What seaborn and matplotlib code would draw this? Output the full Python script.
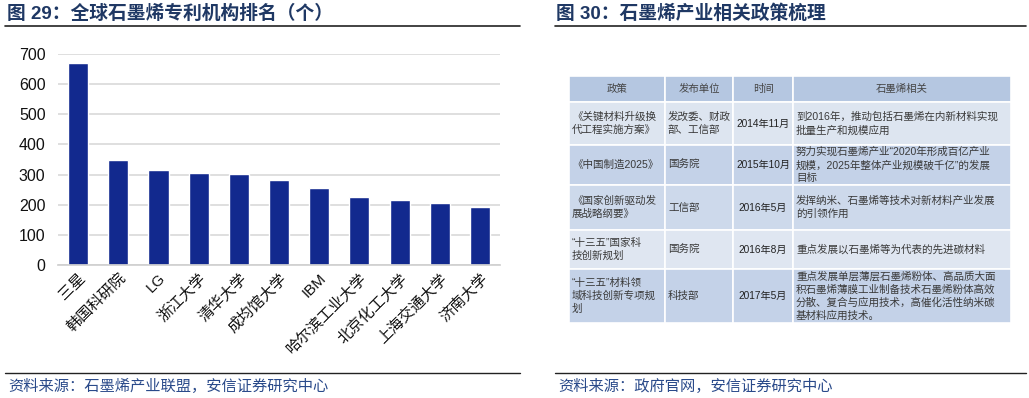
import matplotlib
matplotlib.use("Agg")
import matplotlib.pyplot as plt
import seaborn as sns
import pandas as pd
from matplotlib.patches import Rectangle
from matplotlib.lines import Line2D

# 图29 数据
orgs = ["三星", "韩国科研院", "LG", "浙江大学", "清华大学", "成均馆大学", "IBM",
        "哈尔滨工业大学", "北京化工大学", "上海交通大学", "济南大学"]
patents = [671, 348, 316, 305, 301, 283, 255, 227, 216, 205, 194]

# 图30 表格内容
header = ["政策", "发布单位", "时间", "石墨烯相关"]
policy = ["《关键材料升级换\n代工程实施方案》", "《中国制造2025》", "《国家创新驱动发\n展战略纲要》",
          "“十三五”国家科\n技创新规划", "“十三五”材料领\n域科技创新专项规\n划"]
issuer = ["发改委、财政\n部、工信部", "国务院", "工信部", "国务院", "科技部"]
dates = ["2014年11月", "2015年10月", "2016年5月", "2016年8月", "2017年5月"]
related = ["到2016年，推动包括石墨烯在内新材料实现\n批量生产和规模应用",
           "努力实现石墨烯产业“2020年形成百亿产业\n规模，2025年整体产业规模破千亿”的发展\n目标",
           "发挥纳米、石墨烯等技术对新材料产业发展\n的引领作用",
           "重点发展以石墨烯等为代表的先进碳材料",
           "重点发展单层薄层石墨烯粉体、高品质大面\n积石墨烯薄膜工业制备技术石墨烯粉体高效\n分散、复合与应用技术，高催化活性纳米碳\n基材料应用技术。"]

sns.set_theme(style="white")
plt.rcParams['font.family'] = ['Liberation Sans', 'Noto Sans CJK SC', 'DejaVu Sans']

W, H = 1029, 398
fig = plt.figure(figsize=(W / 100, H / 100), dpi=100)
fig.patch.set_facecolor("white")

def fx(px):
    return px / W

def fy(py):
    return 1 - py / H

title_color = "#1f3864"
# 标题和分隔线
fig.text(fx(7), fy(14), "图 29：全球石墨烯专利机构排名（个）", fontsize=13.5, fontweight="bold",
         color=title_color, va="center", ha="left")
fig.text(fx(556), fy(14), "图 30：石墨烯产业相关政策梳理", fontsize=13.5, fontweight="bold",
         color=title_color, va="center", ha="left")
for x0, x1 in [(5, 520), (555, 1026)]:
    fig.add_artist(Line2D([fx(x0), fx(x1)], [fy(26), fy(26)], color="#222222", lw=1.2))
    fig.add_artist(Line2D([fx(x0), fx(x1)], [fy(373), fy(373)], color="#222222", lw=1.0))
fig.text(fx(8), fy(386), "资料来源：石墨烯产业联盟，安信证券研究中心", fontsize=11,
         color="#2a4a8a", va="center", ha="left", style="italic")
fig.text(fx(558), fy(386), "资料来源：政府官网，安信证券研究中心", fontsize=11,
         color="#2a4a8a", va="center", ha="left", style="italic")

# 柱状图
ax = fig.add_axes([fx(58), fy(265), fx(500) - fx(58), fy(54) - fy(265)])
df = pd.DataFrame({"org": orgs, "n": patents})
sns.barplot(data=df, x="org", y="n", color="#12298e", width=0.5, ax=ax, saturation=1)
ax.set_ylim(0, 700)
ax.set_xlim(-0.5, len(orgs) - 0.5)
ax.set_yticks(range(0, 701, 100))
ax.yaxis.grid(True, color="#d9d9d9", lw=1.2)
ax.set_axisbelow(True)
for s in ["top", "right", "left"]:
    ax.spines[s].set_visible(False)
ax.spines["bottom"].set_color("#d0d0d0")
ax.set_xlabel("")
ax.set_ylabel("")
ax.tick_params(axis="y", labelsize=11.5, length=0, pad=9, colors="#111111")
ax.tick_params(axis="x", labelsize=11, length=0, pad=4, colors="#111111")
plt.setp(ax.get_xticklabels(), rotation=45, ha="right", rotation_mode="anchor")

# 表格
tx = fig.add_axes([fx(569), fy(323), fx(1011) - fx(569), fy(76) - fy(323)])
col_w = [96, 68, 60, 218]
row_h = [26, 43, 40, 45, 39, 54]
row_colors = ["#b5c7e1", "#dde5f0", "#c4d2e8", "#cdd9eb", "#dfe6f1", "#c4d2e8"]
tx.set_xlim(0, sum(col_w))
tx.set_ylim(sum(row_h), 0)
tx.axis("off")

rows = [header] + [[policy[i], issuer[i], dates[i], related[i]] for i in range(len(policy))]
y = 0
for r, (row, h) in enumerate(zip(rows, row_h)):
    x = 0
    for c, (txt, w) in enumerate(zip(row, col_w)):
        tx.add_patch(Rectangle((x, y), w, h, facecolor=row_colors[r], edgecolor="white", lw=1.2))
        if r == 0:
            tx.text(x + w / 2, y + h / 2, txt, ha="center", va="center", fontsize=7.5, color="#444444")
        elif c == 2:
            tx.text(x + w / 2, y + h / 2, txt, ha="center", va="center", fontsize=7.3,
                    color="#222222")
        else:
            tx.text(x + 3, y + h / 2, txt, ha="left", va="center", fontsize=7.6, color="#3a3a3a",
                    linespacing=1.35)
        x += w
    y += h

fig.savefig("out.png", dpi=100)
